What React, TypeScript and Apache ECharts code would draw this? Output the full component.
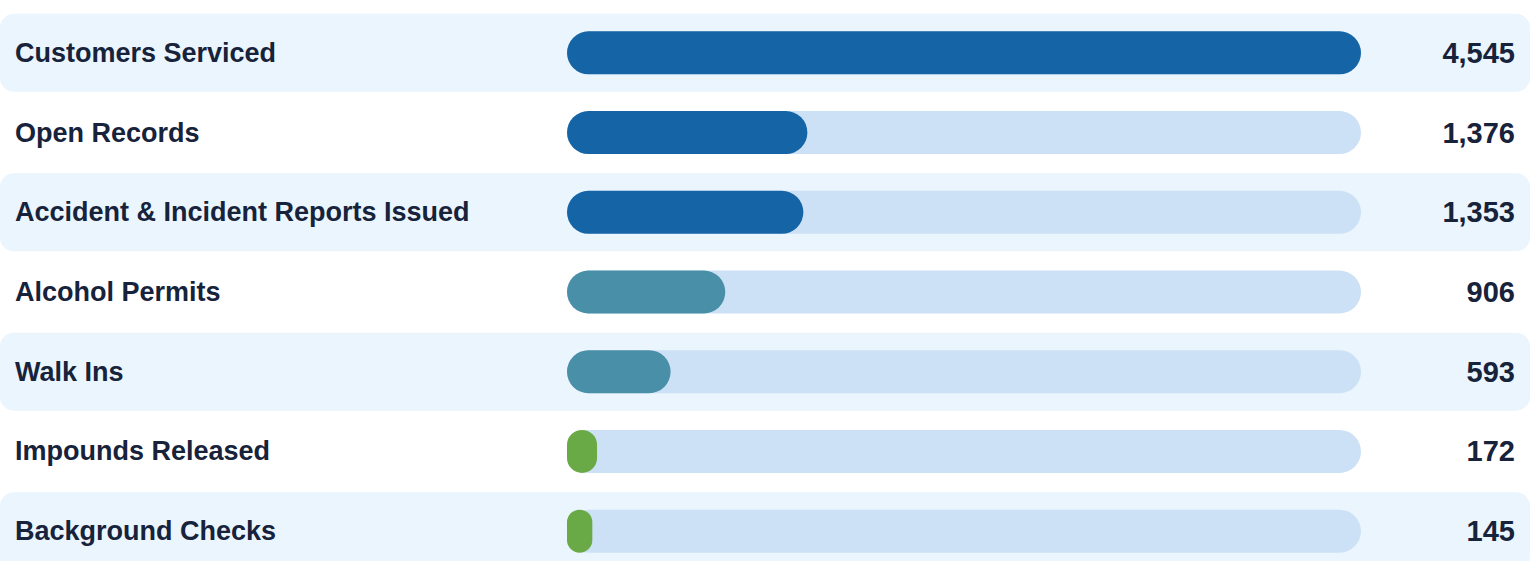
import React, { useEffect, useRef } from "react";
import * as echarts from "echarts";

const categories = [
  "Customers Serviced",
  "Open Records",
  "Accident & Incident Reports Issued",
  "Alcohol Permits",
  "Walk Ins",
  "Impounds Released",
  "Background Checks",
];
const values = [4545, 1376, 1353, 906, 593, 172, 145];
const barColors = ["#1565a6", "#1565a6", "#1565a6", "#4a8fa8", "#4a8fa8", "#6aaa46", "#6aaa46"];
const trackMax = 4545;

const TEXT = "#17223b";
const FONT = "'Liberation Sans', Arial, sans-serif";

export default function App() {
  const ref = useRef<HTMLDivElement>(null);
  useEffect(() => {
    document.body.style.margin = "0";
    document.body.style.overflow = "hidden";
    document.documentElement.style.overflow = "hidden";
    const chart = echarts.init(ref.current!, undefined, { renderer: "svg" });
    const gridTop = 13;
    const gridBottom = 4;
    chart.setOption({
      animation: false,
      backgroundColor: "#ffffff",
      grid: [
        { left: 567, right: 178, top: gridTop, bottom: gridBottom },
        { left: 0, right: 9, top: gridTop, bottom: gridBottom },
      ],
      xAxis: [
        { type: "value", gridIndex: 0, min: 0, max: trackMax, show: false },
        { type: "value", gridIndex: 1, min: 0, max: 1, show: false },
      ],
      yAxis: [
        {
          type: "category",
          gridIndex: 0,
          data: categories,
          inverse: true,
          show: false,
        },
        {
          type: "category",
          gridIndex: 1,
          data: categories,
          inverse: true,
          z: 10,
          axisLine: { show: false },
          axisTick: { show: false },
          splitLine: { show: false },
          axisLabel: {
            inside: true,
            margin: 15,
            align: "left",
            color: TEXT,
            fontFamily: FONT,
            fontWeight: "bold",
            fontSize: 27,
          },
        },
      ],
      series: [
        {
          type: "bar",
          xAxisIndex: 1,
          yAxisIndex: 1,
          z: 0,
          barWidth: 78,
          silent: true,
          data: categories.map((_, i) => ({
            value: 1,
            itemStyle: {
              color: i % 2 === 0 ? "#eaf5fd" : "rgba(255,255,255,0)",
              borderRadius: 14,
            },
          })),
          label: {
            show: true,
            position: "insideRight",
            distance: 15,
            color: TEXT,
            fontFamily: FONT,
            fontWeight: "bold",
            fontSize: 29,
            formatter: (p: any) => values[p.dataIndex].toLocaleString("en-US"),
          },
        },
        {
          type: "bar",
          xAxisIndex: 0,
          yAxisIndex: 0,
          z: 2,
          barWidth: 43,
          silent: true,
          data: categories.map(() => trackMax),
          itemStyle: { color: "#cde1f6", borderRadius: 22 },
        },
        {
          type: "bar",
          xAxisIndex: 0,
          yAxisIndex: 0,
          z: 3,
          barWidth: 43,
          barGap: "-100%",
          silent: true,
          data: values.map((v, i) => ({
            value: v,
            itemStyle: { color: barColors[i], borderRadius: 22 },
          })),
        },
      ],
    });
    return () => chart.dispose();
  }, []);
  return <div ref={ref} style={{ width: 1539, height: 575 }} />;
}
